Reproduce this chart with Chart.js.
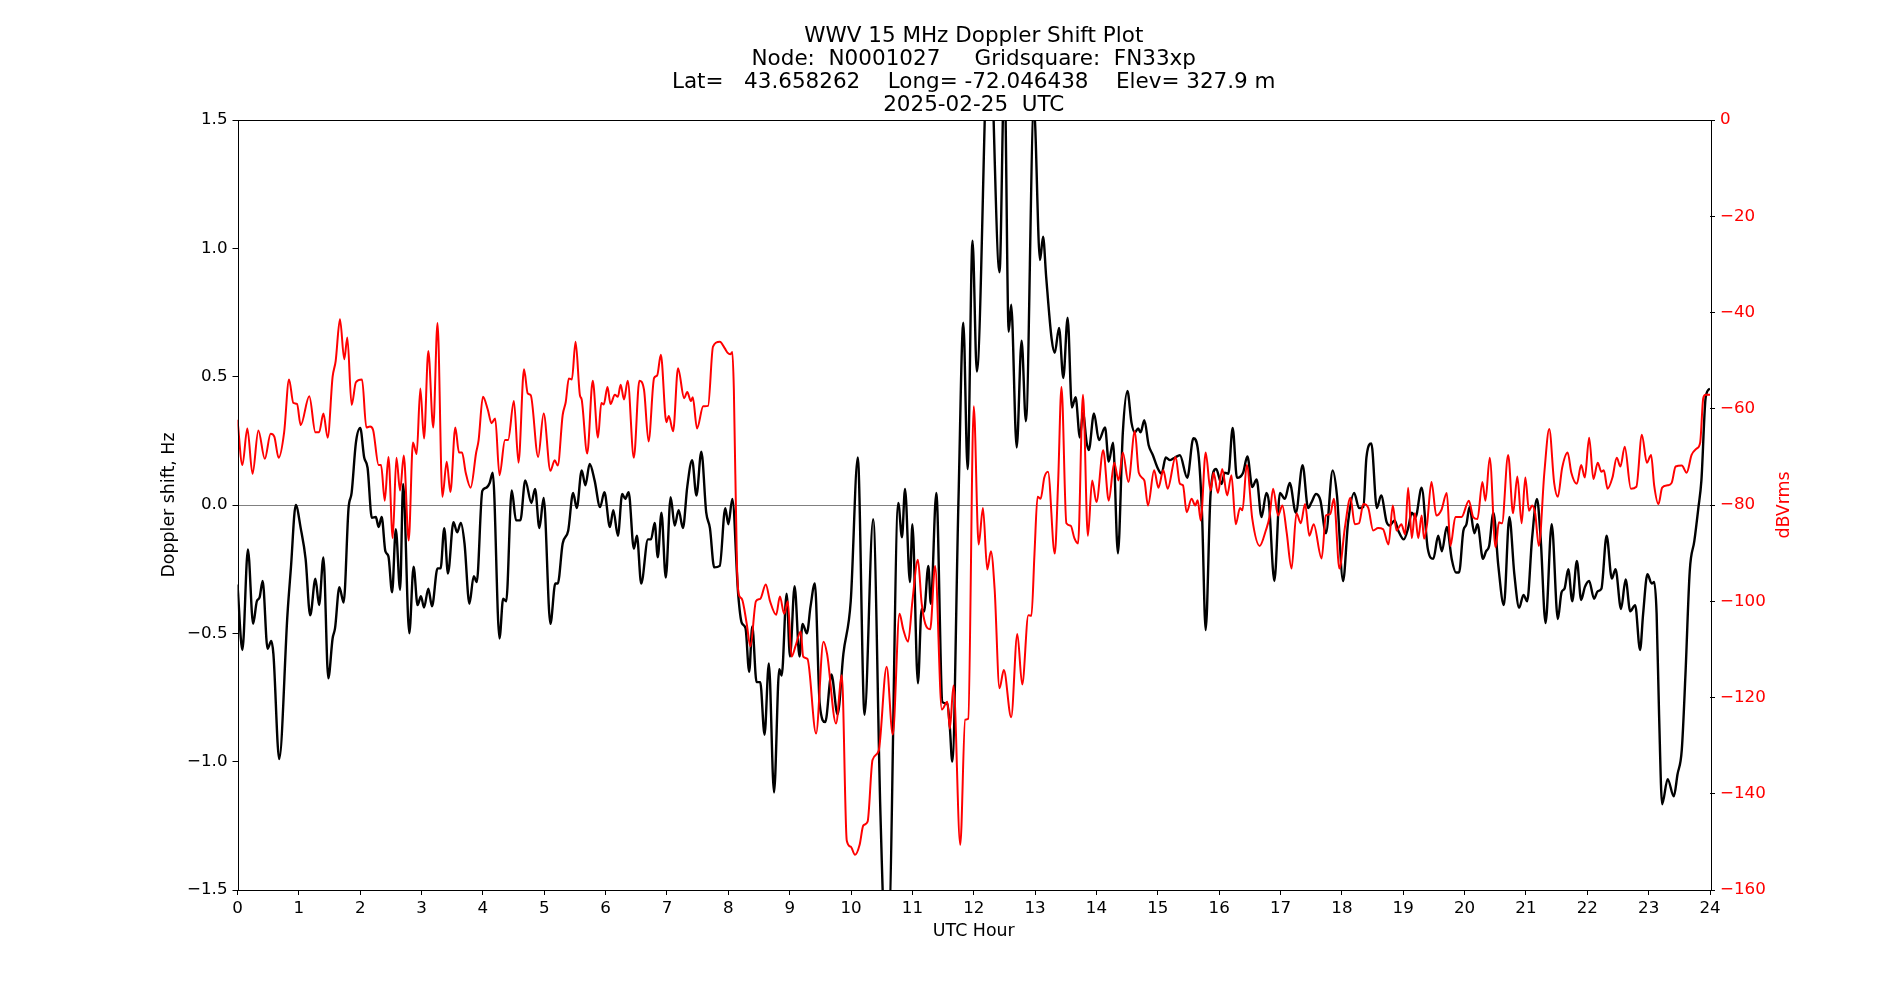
<!DOCTYPE html>
<html>
<head>
<meta charset="utf-8">
<script src="https://cdn.jsdelivr.net/npm/chart.js@4"></script>
<style>
  body { margin: 0; background: #fff; }
  canvas { display: block; }
</style>
</head>
<body>
<canvas id="myChart" width="1900" height="1000"></canvas>
<script>
// Doppler shift (black, left axis) - hour / Hz
var dopHours = [0,0.08,0.17,0.255,0.315,0.36,0.41,0.49,0.55,0.585,0.68,0.815,0.87,0.95,1.03,1.11,1.185,1.27,1.33,1.40,1.48,1.55,1.59,1.66,1.73,1.81,1.86,1.93,2.00,2.065,2.12,2.19,2.255,2.30,2.35,2.41,2.46,2.52,2.58,2.65,2.70,2.80,2.87,2.935,2.99,3.04,3.11,3.17,3.26,3.31,3.37,3.43,3.52,3.58,3.64,3.70,3.78,3.85,3.90,3.99,
  4.05,4.11,4.16,4.27,4.33,4.38,4.47,4.54,4.61,4.69,4.79,4.85,4.92,4.99,5.10,5.18,5.22,5.30,5.39,5.47,5.53,5.61,5.67,5.74,5.82,5.91,5.98,6.07,6.125,6.20,6.27,6.32,6.375,6.46,6.51,6.58,6.69,6.74,6.80,6.85,6.91,6.98,7.06,7.125,7.19,7.26,7.33,7.41,7.48,7.56,7.64,7.70,7.77,7.86,7.95,
  8.00,8.065,8.16,8.22,8.28,8.34,8.39,8.46,8.52,8.59,8.66,8.745,8.83,8.87,8.95,9.005,9.08,9.16,9.21,9.28,9.34,9.41,9.49,9.58,9.68,9.78,9.875,9.995,10.11,10.22,10.36,10.48,10.55,10.61,10.77,10.83,10.88,10.96,11.0,11.09,11.15,11.19,11.26,11.30,11.39,11.49,11.57,11.61,11.65,11.75,11.83,11.90,11.98,
  12.05,12.25,12.42,12.50,12.57,12.61,12.70,12.78,12.85,12.98,13.08,13.13,13.18,13.27,13.32,13.39,13.46,13.53,13.60,13.66,13.73,13.78,13.84,13.875,13.96,14.04,14.14,14.20,14.27,14.35,14.43,14.505,14.57,14.625,14.68,14.72,14.78,14.85,14.92,14.995,15.06,15.13,15.20,15.28,15.36,15.48,15.58,15.66,15.72,15.78,15.86,15.95,
  16.04,16.09,16.15,16.22,16.29,16.39,16.46,16.54,16.61,16.69,16.77,16.81,16.90,16.99,17.07,17.15,17.25,17.36,17.45,17.50,17.58,17.65,17.74,17.85,17.92,18.02,18.10,18.20,18.28,18.35,18.40,18.48,18.57,18.64,18.73,18.78,18.86,18.92,19.01,19.08,19.14,19.20,19.30,19.40,19.49,19.57,19.63,19.71,19.79,19.86,19.91,19.98,
  20.03,20.08,20.16,20.21,20.30,20.35,20.40,20.47,20.55,20.64,20.73,20.81,20.89,20.96,21.02,21.10,21.18,21.24,21.32,21.42,21.52,21.58,21.63,21.69,21.755,21.83,21.90,21.96,22.03,22.11,22.17,22.23,22.315,22.40,22.46,22.55,22.625,22.70,22.78,22.86,22.91,22.98,23.05,23.09,23.13,23.17,23.22,23.31,23.41,23.47,23.54,23.60,23.67,23.745,23.81,23.86,23.93,24.0];
var dopValues = [-0.31,-0.565,-0.173,-0.463,-0.375,-0.36,-0.296,-0.56,-0.53,-0.58,-0.99,-0.424,-0.247,0.0,-0.09,-0.21,-0.43,-0.287,-0.39,-0.204,-0.675,-0.52,-0.48,-0.32,-0.38,-0.012,0.047,0.243,0.30,0.185,0.145,-0.05,-0.047,-0.086,-0.047,-0.18,-0.2,-0.34,-0.094,-0.33,0.082,-0.50,-0.24,-0.39,-0.355,-0.40,-0.326,-0.395,-0.247,-0.247,-0.09,-0.267,-0.067,-0.106,-0.07,-0.15,-0.385,-0.277,-0.30,0.055,
  0.067,0.086,0.126,-0.52,-0.365,-0.375,0.057,-0.06,-0.06,0.096,0.008,0.063,-0.09,0.027,-0.463,-0.306,-0.306,-0.15,-0.1,0.047,-0.012,0.135,0.077,0.16,0.096,-0.008,0.05,-0.086,-0.02,-0.12,0.043,0.024,0.05,-0.17,-0.12,-0.306,-0.134,-0.134,-0.07,-0.204,-0.03,-0.283,0.03,-0.08,-0.02,-0.09,0.07,0.175,0.037,0.208,-0.03,-0.09,-0.243,-0.237,-0.012,
  -0.075,0.024,-0.346,-0.46,-0.48,-0.65,-0.473,-0.69,-0.69,-0.895,-0.617,-1.12,-0.64,-0.664,-0.346,-0.59,-0.316,-0.59,-0.463,-0.50,-0.395,-0.306,-0.777,-0.846,-0.66,-0.816,-0.58,-0.375,0.185,-0.817,-0.055,-1.21,-1.65,-1.65,0.008,-0.126,0.063,-0.30,-0.075,-0.695,-0.405,-0.415,-0.237,-0.385,0.047,-0.768,-0.774,-0.866,-1.0,0.008,0.71,0.14,1.03,
  0.52,1.9,0.907,1.7,0.675,0.78,0.224,0.64,0.326,1.55,0.954,1.045,0.89,0.646,0.593,0.69,0.495,0.73,0.38,0.42,0.263,0.36,0.243,0.214,0.357,0.253,0.302,0.169,0.243,-0.188,0.283,0.444,0.322,0.283,0.298,0.283,0.33,0.234,0.194,0.145,0.122,0.185,0.175,0.185,0.194,0.106,0.26,0.204,-0.03,-0.487,0.043,0.14,
  0.082,0.126,0.122,0.30,0.106,0.126,0.189,0.07,0.10,-0.047,0.047,0.012,-0.296,0.047,0.024,0.086,-0.03,0.155,-0.012,0.008,0.043,0.018,-0.11,0.135,0.037,-0.296,-0.07,0.047,-0.012,-0.008,0.185,0.24,-0.012,0.037,-0.067,-0.08,-0.06,-0.1,-0.134,-0.09,-0.03,-0.047,0.067,-0.17,-0.21,-0.12,-0.18,-0.086,-0.21,-0.263,-0.263,-0.1,
  -0.075,-0.008,-0.11,-0.075,-0.21,-0.18,-0.16,-0.03,-0.237,-0.39,-0.047,-0.267,-0.40,-0.35,-0.375,-0.13,0.024,-0.13,-0.46,-0.075,-0.444,-0.34,-0.325,-0.25,-0.375,-0.218,-0.37,-0.32,-0.296,-0.365,-0.336,-0.326,-0.12,-0.287,-0.25,-0.405,-0.29,-0.414,-0.39,-0.565,-0.424,-0.27,-0.306,-0.30,-0.424,-0.817,-1.166,-1.068,-1.135,-1.05,-0.954,-0.66,-0.257,-0.14,-0.012,0.096,0.42,0.454];

// Signal level (red, right axis) - hour / dBVrms
var powHours = [0,0.08,0.16,0.245,0.34,0.445,0.54,0.60,0.67,0.76,0.84,0.91,0.97,1.03,1.17,1.27,1.33,1.40,1.47,1.55,1.60,1.67,1.74,1.79,1.86,1.93,2.03,2.10,2.16,2.21,2.30,2.34,2.40,2.46,2.53,2.59,2.65,2.71,2.79,2.86,2.92,2.98,3.04,3.11,3.19,3.26,3.34,3.41,3.47,3.55,3.61,3.66,3.72,3.80,3.89,3.93,
  4.00,4.08,4.14,4.20,4.27,4.36,4.41,4.505,4.58,4.67,4.73,4.78,4.90,4.99,5.10,5.17,5.22,5.30,5.35,5.40,5.45,5.51,5.58,5.61,5.70,5.79,5.875,5.93,5.97,6.03,6.08,6.15,6.20,6.245,6.30,6.36,6.46,6.55,6.625,6.70,6.79,6.84,6.90,6.99,7.03,7.10,7.18,7.28,7.33,7.39,7.42,7.49,7.59,7.67,7.75,7.86,7.94,7.99,
  8.03,8.065,8.09,8.14,8.17,8.22,8.30,8.36,8.45,8.52,8.61,8.68,8.78,8.84,8.91,8.97,9.03,9.10,9.18,9.22,9.29,9.43,9.55,9.61,9.755,9.85,9.93,9.995,10.065,10.14,10.20,10.27,10.35,10.45,10.58,10.68,10.79,10.85,10.93,11.0,11.09,11.15,11.21,11.29,11.37,11.48,11.57,11.61,11.67,11.78,11.86,11.91,
  12.00,12.08,12.15,12.22,12.28,12.34,12.42,12.49,12.61,12.71,12.79,12.89,12.94,12.99,13.04,13.09,13.15,13.21,13.32,13.375,13.43,13.51,13.58,13.64,13.70,13.78,13.86,13.93,14.00,14.11,14.20,14.29,14.36,14.43,14.52,14.625,14.69,14.78,14.84,14.94,15.01,15.09,15.16,15.29,15.36,15.41,15.47,15.55,15.61,15.65,15.70,15.78,15.86,15.91,15.98,
  16.05,16.13,16.20,16.27,16.34,16.38,16.45,16.54,16.66,16.76,16.82,16.88,16.96,17.03,17.10,17.18,17.26,17.33,17.40,17.47,17.54,17.67,17.74,17.81,17.87,17.96,18.05,18.14,18.21,18.28,18.35,18.43,18.51,18.59,18.67,18.76,18.83,18.89,18.97,19.03,19.08,19.14,19.19,19.245,19.30,19.34,19.39,19.46,19.54,19.62,19.71,19.77,19.85,19.95,
  20.07,20.14,20.21,20.29,20.34,20.41,20.505,20.56,20.61,20.71,20.79,20.86,20.93,20.99,21.05,21.10,21.15,21.21,21.30,21.38,21.46,21.52,21.59,21.68,21.74,21.83,21.90,21.96,22.03,22.10,22.17,22.23,22.27,22.33,22.41,22.48,22.54,22.61,22.71,22.80,22.89,22.97,23.04,23.09,23.16,23.22,23.31,23.375,23.44,23.54,23.62,23.70,23.78,23.84,23.89,23.93,24.0];
var powValues = [-62.3,-71.7,-64.1,-73.5,-64.5,-70.4,-65.2,-65.8,-70.2,-64.9,-53.9,-58.8,-59.0,-63.4,-57.4,-64.9,-64.9,-61.0,-66.0,-53.4,-50.1,-41.4,-49.7,-45.2,-59.2,-54.5,-53.9,-63.9,-63.7,-64.4,-71.7,-71.7,-79.1,-70.0,-86.9,-70.2,-77.0,-69.7,-87.4,-67.0,-69.4,-55.8,-66.2,-48.0,-63.9,-42.2,-78.3,-71.0,-77.3,-63.9,-69.1,-69.1,-73.3,-76.4,-69.1,-66.5,
  -57.5,-60.2,-63.0,-62.0,-73.8,-66.5,-66.5,-58.4,-71.2,-51.8,-56.8,-57.2,-70.0,-61.0,-72.9,-70.7,-71.8,-61.3,-58.6,-53.7,-53.9,-46.1,-57.1,-58.1,-69.3,-54.2,-66.0,-58.8,-59.1,-55.5,-59.0,-57.1,-57.5,-55.0,-58.1,-54.2,-70.2,-54.2,-56.0,-66.8,-53.6,-53.1,-48.8,-62.8,-61.5,-64.7,-51.6,-57.8,-56.5,-58.4,-57.6,-64.1,-59.5,-59.4,-47.1,-46.1,-47.4,-48.4,
  -48.7,-48.2,-56,-92.1,-98.6,-99.5,-104.7,-109.4,-100.0,-99.5,-96.5,-100.0,-102.8,-99.0,-102.6,-100.0,-111.5,-109.1,-106.3,-111.5,-112.0,-127.5,-108.4,-111.0,-125.4,-115.4,-149.7,-151.0,-152.7,-150.6,-146.6,-145.8,-133.0,-131.1,-113.6,-127.7,-102.6,-105.8,-108.4,-100.0,-91.4,-100.3,-104.7,-105.8,-92.7,-122.5,-120.9,-126.5,-117.5,-150.6,-124.6,-124.4,
  -59.5,-88.2,-80.6,-93.4,-89.6,-97.4,-118.1,-114.3,-124.1,-106.8,-117.3,-102.9,-103.0,-90.1,-78.3,-78.7,-74.3,-73.1,-90.1,-75.4,-55.5,-83.8,-84.3,-86.9,-88.0,-57.1,-86.4,-74.9,-79.4,-68.6,-79.1,-71.2,-74.9,-69.1,-75.2,-64.7,-73.3,-74.9,-80.1,-72.8,-76.4,-72.8,-76.6,-70.0,-75.6,-75.9,-81.5,-78.7,-80.1,-79.0,-83.2,-69.1,-77.0,-73.3,-77.5,
  -72.5,-78.0,-73.8,-84.0,-80.6,-81.1,-71.7,-82.9,-88.5,-85.3,-82.5,-76.6,-82.2,-80.1,-85.7,-93.2,-81.7,-83.8,-79.8,-86.4,-84.0,-91.1,-82.2,-81.9,-78.7,-93.2,-84.6,-78.5,-84.0,-83.8,-79.8,-80.6,-85.3,-84.8,-85.0,-88.2,-80.1,-85.3,-84.0,-86.1,-76.4,-86.9,-81.7,-86.9,-82.2,-87.0,-83.8,-75.2,-82.2,-81.1,-77.5,-88.5,-82.5,-82.5,
  -79.1,-82.5,-82.9,-75.2,-79.1,-70.2,-88.8,-83.6,-83.8,-69.6,-81.7,-74.1,-83.8,-74.3,-81.2,-80.1,-81.7,-88.5,-73.3,-64.2,-75.4,-78.3,-72.3,-69.1,-73.3,-75.6,-71.7,-74.3,-66.0,-74.6,-71.2,-73.1,-72.8,-76.6,-74.3,-70.2,-72.0,-67.9,-76.6,-76.2,-65.4,-71.2,-69.6,-75.9,-79.8,-76.4,-75.9,-75.4,-72.0,-71.8,-73.3,-69.6,-68.3,-67.0,-57.8,-57.1,-57.1];

var titleLines = [
  'WWV 15 MHz Doppler Shift Plot',
  'Node:  N0001027     Gridsquare:  FN33xp',
  'Lat=   43.658262    Long= -72.046438    Elev= 327.9 m',
  '2025-02-25  UTC'
];

var FONT = 'DejaVu Sans';
var MINUS = '\u2212';

function toPoints(xs, ys) {
  return xs.map(function(x, i) { return { x: x, y: ys[i] }; });
}

// box around the plot and the right axis label (reads bottom to top)
var framePlugin = {
  id: 'frame',
  afterDatasetsDraw: function(chart) {
    var a = chart.chartArea, ctx = chart.ctx;
    ctx.save();
    ctx.strokeStyle = '#000';
    ctx.lineWidth = 1;
    ctx.strokeRect(Math.round(a.left) + 0.5, Math.round(a.top) + 0.5,
      Math.round(a.right - a.left), Math.round(a.bottom - a.top));
    ctx.restore();
  },
  afterDraw: function(chart) {
    var a = chart.chartArea, ctx = chart.ctx;
    ctx.save();
    ctx.translate(a.right + 74.5, (a.top + a.bottom) / 2);
    ctx.rotate(-Math.PI / 2);
    ctx.fillStyle = 'red';
    ctx.font = '17.4px "' + FONT + '"';
    ctx.textAlign = 'center';
    ctx.textBaseline = 'middle';
    ctx.fillText('dBVrms', 0, 0);
    ctx.restore();
  }
};

var ctx = document.getElementById('myChart').getContext('2d');
var myChart = new Chart(ctx, {
  type: 'line',
  data: {
    datasets: [{
      label: 'dBVrms',
      data: toPoints(powHours, powValues),
      yAxisID: 'y2',
      borderColor: 'red',
      borderWidth: 2,
      pointRadius: 0,
      cubicInterpolationMode: 'monotone'
    }, {
      label: 'Doppler shift',
      data: toPoints(dopHours, dopValues),
      yAxisID: 'y',
      borderColor: 'black',
      borderWidth: 2.4,
      pointRadius: 0,
      cubicInterpolationMode: 'monotone'
    }]
  },
  options: {
    responsive: false,
    animation: false,
    devicePixelRatio: 1,
    layout: { padding: 0 },
    plugins: {
      legend: { display: false },
      tooltip: { enabled: false },
      title: {
        display: true,
        fullSize: false, // centre over the plot area, like matplotlib
        text: titleLines,
        color: '#000',
        font: { family: FONT, size: 21.5, weight: 'normal', lineHeight: '23px' },
        padding: { top: 25, bottom: 3 }
      }
    },
    scales: {
      x: {
        type: 'linear',
        min: 0,
        max: 24,
        afterFit: function(s) { s.height = 110; },
        border: { display: false },
        grid: { drawOnChartArea: false, tickLength: 5, tickColor: '#000' },
        ticks: {
          stepSize: 1, autoSkip: false, maxRotation: 0, padding: 4, color: '#000',
          font: { family: FONT, size: 16.7 }
        },
        title: {
          display: true, text: 'UTC Hour', color: '#000',
          font: { family: FONT, size: 17.4, lineHeight: 1.2 },
          padding: { top: 0, bottom: 57.6 }
        }
      },
      y: {
        position: 'left',
        min: -1.5,
        max: 1.5,
        afterFit: function(s) { s.width = 237.5; },
        border: { display: false },
        grid: {
          tickLength: 5,
          tickColor: '#000',
          color: function(c) { return c.tick && c.tick.value === 0 ? '#808080' : 'rgba(0,0,0,0)'; }
        },
        ticks: {
          stepSize: 0.5, padding: 5, color: '#000',
          font: { family: FONT, size: 16.7 },
          callback: function(v) { return (v < 0 ? MINUS : '') + Math.abs(v).toFixed(1); }
        },
        title: {
          display: true, text: 'Doppler shift, Hz', color: '#000',
          font: { family: FONT, size: 17.4, lineHeight: 1.2 },
          padding: { top: 159, bottom: 0 }
        }
      },
      y2: {
        position: 'right',
        min: -160,
        max: 0,
        afterFit: function(s) { s.width = 190; },
        border: { display: false },
        grid: { drawOnChartArea: false, tickLength: 5, tickColor: '#000' },
        ticks: {
          stepSize: 20, padding: 5, color: 'red',
          font: { family: FONT, size: 16.7 },
          callback: function(v) { return v < 0 ? MINUS + Math.abs(v) : String(v); }
        }
      }
    }
  },
  plugins: [framePlugin]
});
</script>
</body>
</html>
